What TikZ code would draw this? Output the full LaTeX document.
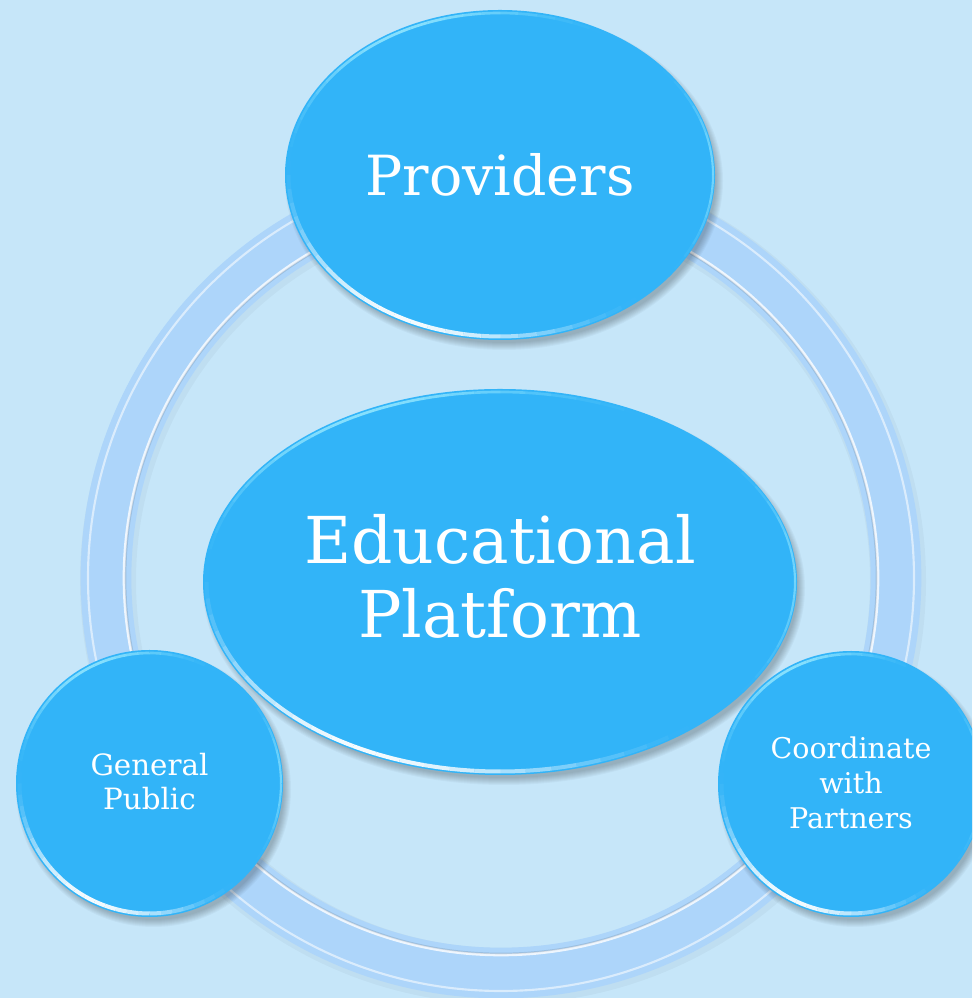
\documentclass[tikz,border=0pt]{standalone}
\usepackage{fontspec}
\setmainfont{DejaVu Serif}
\usetikzlibrary{shapes.geometric}
\definecolor{bg}{HTML}{C6E6F9}
\definecolor{ringc}{HTML}{ADD5FA}
\definecolor{bub}{HTML}{32B4F8}
\definecolor{rimc}{HTML}{9CEBFF}
\tikzset{
  bubble/.style={ellipse, fill=bub, inner sep=0pt, text=white, align=center},
}
% #1 name, #2 x, #3 y, #4 rx, #5 ry, #6 font/options, #7 text
\newcommand{\mybubble}[7]{%
  \foreach \k in {0,...,7}{
    \fill[black, opacity=0.03] (#2+4,#3-6) ellipse [x radius={#4+\k-3}, y radius={#5+\k-3}];
  }
  \node[bubble, minimum width={1.5*#4 pt}, minimum height={1.5*#5 pt}, #6] (#1) at (#2,#3) {#7};
  \foreach \a in {170,175,...,305}{
    \pgfmathsetmacro{\s}{sin((\a-170)/140*180)}
    \pgfmathsetmacro{\op}{0.95*\s*\s+0.001}
    \draw[white, line width=3, opacity=\op]
      ({#2+(#4-3.5)*cos(\a)},{#3+(#5-3.5)*sin(\a)})
      arc[start angle=\a, end angle=\a+5, x radius={#4-3.5}, y radius={#5-3.5}];
  }
  \foreach \a in {55,60,...,170}{
    \pgfmathsetmacro{\s}{sin((\a-55)/120*180)}
    \pgfmathsetmacro{\op}{0.8*\s*\s+0.001}
    \draw[rimc, line width=2, opacity=\op]
      ({#2+(#4-3)*cos(\a)},{#3+(#5-3)*sin(\a)})
      arc[start angle=\a, end angle=\a+5, x radius={#4-3}, y radius={#5-3}];
  }
  \foreach \a in {-40,-35,...,35}{
    \pgfmathsetmacro{\s}{sin((\a+40)/80*180)}
    \pgfmathsetmacro{\op}{0.6*\s*\s+0.001}
    \draw[rimc, line width=1.6, opacity=\op]
      ({#2+(#4-2)*cos(\a)},{#3+(#5-2)*sin(\a)})
      arc[start angle=\a, end angle=\a+5, x radius={#4-2}, y radius={#5-2}];
  }
}
\begin{document}
\begin{tikzpicture}[x=0.75pt,y=0.75pt]
\useasboundingbox (0,0) rectangle (972,998);
\clip (0,0) rectangle (972,998);
\fill[bg] (0,0) rectangle (972,998);
% ring
\coordinate (rc) at (501,420);
\draw[black, opacity=0.03, line width=42] ([shift={(2,-3)}]rc) circle (395);
\draw[ringc, line width=38] (rc) circle (395);
\draw[white, opacity=0.8, line width=2] (rc) circle (377);
\draw[black, opacity=0.1, line width=1.2] (rc) circle (375.5);
\draw[white, opacity=0.55, line width=1.6] (rc) circle (413);
% bubbles
\mybubble{prov}{500}{823}{215}{165}{font=\fontsize{41.5}{48}\selectfont}{Providers}
\mybubble{edu}{500}{416}{297}{193}{font=\fontsize{48.5}{56}\selectfont, text depth=9pt}{Educational\\Platform}
\mybubble{gp}{149.5}{214.5}{133.5}{133.5}{font=\fontsize{22}{25}\selectfont, text depth=3pt}{General\\Public}
\mybubble{cp}{851}{214}{133}{133}{font=\fontsize{21.4}{26}\selectfont, text depth=2pt}{Coordinate\\with\\Partners}
\end{tikzpicture}
\end{document}
